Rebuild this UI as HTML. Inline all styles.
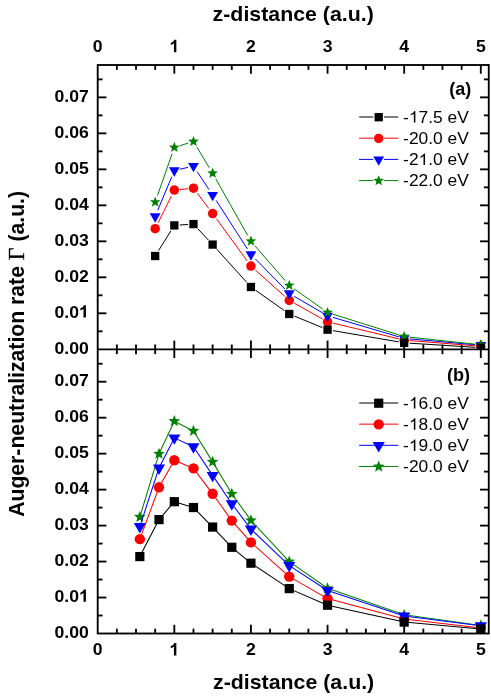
<!DOCTYPE html>
<html><head><meta charset="utf-8"><title>Auger-neutralization rate</title>
<style>
html,body{margin:0;padding:0;background:#fff;}
body{width:491px;height:696px;overflow:hidden;position:relative;font-family:"Liberation Sans",sans-serif;}
</style></head><body>
<svg width="491" height="696" viewBox="0 0 491 696" style="position:absolute;left:0;top:0;display:block;will-change:transform">
<rect width="491" height="696" fill="#ffffff"/>
<g stroke="#000" stroke-width="1.85" fill="none" stroke-linecap="butt">
<rect x="97.7" y="65.0" width="391.05" height="568.5"/>
<line x1="97.7" y1="349.3" x2="488.75" y2="349.3"/>
<line x1="116.86" y1="65.0" x2="116.86" y2="69.85"/>
<line x1="116.86" y1="344.45" x2="116.86" y2="354.15000000000003"/>
<line x1="116.86" y1="628.65" x2="116.86" y2="633.5"/>
<line x1="136.01" y1="65.0" x2="136.01" y2="69.85"/>
<line x1="136.01" y1="344.45" x2="136.01" y2="354.15000000000003"/>
<line x1="136.01" y1="628.65" x2="136.01" y2="633.5"/>
<line x1="155.17" y1="65.0" x2="155.17" y2="69.85"/>
<line x1="155.17" y1="344.45" x2="155.17" y2="354.15000000000003"/>
<line x1="155.17" y1="628.65" x2="155.17" y2="633.5"/>
<line x1="174.32" y1="65.0" x2="174.32" y2="73.7"/>
<line x1="174.32" y1="340.6" x2="174.32" y2="358.0"/>
<line x1="174.32" y1="624.8" x2="174.32" y2="633.5"/>
<line x1="193.48" y1="65.0" x2="193.48" y2="69.85"/>
<line x1="193.48" y1="344.45" x2="193.48" y2="354.15000000000003"/>
<line x1="193.48" y1="628.65" x2="193.48" y2="633.5"/>
<line x1="212.63" y1="65.0" x2="212.63" y2="69.85"/>
<line x1="212.63" y1="344.45" x2="212.63" y2="354.15000000000003"/>
<line x1="212.63" y1="628.65" x2="212.63" y2="633.5"/>
<line x1="231.79" y1="65.0" x2="231.79" y2="69.85"/>
<line x1="231.79" y1="344.45" x2="231.79" y2="354.15000000000003"/>
<line x1="231.79" y1="628.65" x2="231.79" y2="633.5"/>
<line x1="250.94" y1="65.0" x2="250.94" y2="73.7"/>
<line x1="250.94" y1="340.6" x2="250.94" y2="358.0"/>
<line x1="250.94" y1="624.8" x2="250.94" y2="633.5"/>
<line x1="270.10" y1="65.0" x2="270.10" y2="69.85"/>
<line x1="270.10" y1="344.45" x2="270.10" y2="354.15000000000003"/>
<line x1="270.10" y1="628.65" x2="270.10" y2="633.5"/>
<line x1="289.25" y1="65.0" x2="289.25" y2="69.85"/>
<line x1="289.25" y1="344.45" x2="289.25" y2="354.15000000000003"/>
<line x1="289.25" y1="628.65" x2="289.25" y2="633.5"/>
<line x1="308.41" y1="65.0" x2="308.41" y2="69.85"/>
<line x1="308.41" y1="344.45" x2="308.41" y2="354.15000000000003"/>
<line x1="308.41" y1="628.65" x2="308.41" y2="633.5"/>
<line x1="327.56" y1="65.0" x2="327.56" y2="73.7"/>
<line x1="327.56" y1="340.6" x2="327.56" y2="358.0"/>
<line x1="327.56" y1="624.8" x2="327.56" y2="633.5"/>
<line x1="346.72" y1="65.0" x2="346.72" y2="69.85"/>
<line x1="346.72" y1="344.45" x2="346.72" y2="354.15000000000003"/>
<line x1="346.72" y1="628.65" x2="346.72" y2="633.5"/>
<line x1="365.87" y1="65.0" x2="365.87" y2="69.85"/>
<line x1="365.87" y1="344.45" x2="365.87" y2="354.15000000000003"/>
<line x1="365.87" y1="628.65" x2="365.87" y2="633.5"/>
<line x1="385.03" y1="65.0" x2="385.03" y2="69.85"/>
<line x1="385.03" y1="344.45" x2="385.03" y2="354.15000000000003"/>
<line x1="385.03" y1="628.65" x2="385.03" y2="633.5"/>
<line x1="404.18" y1="65.0" x2="404.18" y2="73.7"/>
<line x1="404.18" y1="340.6" x2="404.18" y2="358.0"/>
<line x1="404.18" y1="624.8" x2="404.18" y2="633.5"/>
<line x1="423.33" y1="65.0" x2="423.33" y2="69.85"/>
<line x1="423.33" y1="344.45" x2="423.33" y2="354.15000000000003"/>
<line x1="423.33" y1="628.65" x2="423.33" y2="633.5"/>
<line x1="442.49" y1="65.0" x2="442.49" y2="69.85"/>
<line x1="442.49" y1="344.45" x2="442.49" y2="354.15000000000003"/>
<line x1="442.49" y1="628.65" x2="442.49" y2="633.5"/>
<line x1="461.65" y1="65.0" x2="461.65" y2="69.85"/>
<line x1="461.65" y1="344.45" x2="461.65" y2="354.15000000000003"/>
<line x1="461.65" y1="628.65" x2="461.65" y2="633.5"/>
<line x1="480.80" y1="65.0" x2="480.80" y2="73.7"/>
<line x1="480.80" y1="340.6" x2="480.80" y2="358.0"/>
<line x1="480.80" y1="624.8" x2="480.80" y2="633.5"/>
<line x1="97.7" y1="331.31" x2="102.55" y2="331.31"/>
<line x1="488.75" y1="331.31" x2="483.9" y2="331.31"/>
<line x1="97.7" y1="313.31" x2="106.4" y2="313.31"/>
<line x1="488.75" y1="313.31" x2="480.05" y2="313.31"/>
<line x1="97.7" y1="295.31" x2="102.55" y2="295.31"/>
<line x1="488.75" y1="295.31" x2="483.9" y2="295.31"/>
<line x1="97.7" y1="277.32" x2="106.4" y2="277.32"/>
<line x1="488.75" y1="277.32" x2="480.05" y2="277.32"/>
<line x1="97.7" y1="259.32" x2="102.55" y2="259.32"/>
<line x1="488.75" y1="259.32" x2="483.9" y2="259.32"/>
<line x1="97.7" y1="241.33" x2="106.4" y2="241.33"/>
<line x1="488.75" y1="241.33" x2="480.05" y2="241.33"/>
<line x1="97.7" y1="223.33" x2="102.55" y2="223.33"/>
<line x1="488.75" y1="223.33" x2="483.9" y2="223.33"/>
<line x1="97.7" y1="205.34" x2="106.4" y2="205.34"/>
<line x1="488.75" y1="205.34" x2="480.05" y2="205.34"/>
<line x1="97.7" y1="187.35" x2="102.55" y2="187.35"/>
<line x1="488.75" y1="187.35" x2="483.9" y2="187.35"/>
<line x1="97.7" y1="169.35" x2="106.4" y2="169.35"/>
<line x1="488.75" y1="169.35" x2="480.05" y2="169.35"/>
<line x1="97.7" y1="151.36" x2="102.55" y2="151.36"/>
<line x1="488.75" y1="151.36" x2="483.9" y2="151.36"/>
<line x1="97.7" y1="133.36" x2="106.4" y2="133.36"/>
<line x1="488.75" y1="133.36" x2="480.05" y2="133.36"/>
<line x1="97.7" y1="115.37" x2="102.55" y2="115.37"/>
<line x1="488.75" y1="115.37" x2="483.9" y2="115.37"/>
<line x1="97.7" y1="97.37" x2="106.4" y2="97.37"/>
<line x1="488.75" y1="97.37" x2="480.05" y2="97.37"/>
<line x1="97.7" y1="79.38" x2="102.55" y2="79.38"/>
<line x1="488.75" y1="79.38" x2="483.9" y2="79.38"/>
<line x1="97.7" y1="615.51" x2="102.55" y2="615.51"/>
<line x1="488.75" y1="615.51" x2="483.9" y2="615.51"/>
<line x1="97.7" y1="597.53" x2="106.4" y2="597.53"/>
<line x1="488.75" y1="597.53" x2="480.05" y2="597.53"/>
<line x1="97.7" y1="579.54" x2="102.55" y2="579.54"/>
<line x1="488.75" y1="579.54" x2="483.9" y2="579.54"/>
<line x1="97.7" y1="561.56" x2="106.4" y2="561.56"/>
<line x1="488.75" y1="561.56" x2="480.05" y2="561.56"/>
<line x1="97.7" y1="543.58" x2="102.55" y2="543.58"/>
<line x1="488.75" y1="543.58" x2="483.9" y2="543.58"/>
<line x1="97.7" y1="525.59" x2="106.4" y2="525.59"/>
<line x1="488.75" y1="525.59" x2="480.05" y2="525.59"/>
<line x1="97.7" y1="507.61" x2="102.55" y2="507.61"/>
<line x1="488.75" y1="507.61" x2="483.9" y2="507.61"/>
<line x1="97.7" y1="489.62" x2="106.4" y2="489.62"/>
<line x1="488.75" y1="489.62" x2="480.05" y2="489.62"/>
<line x1="97.7" y1="471.63" x2="102.55" y2="471.63"/>
<line x1="488.75" y1="471.63" x2="483.9" y2="471.63"/>
<line x1="97.7" y1="453.65" x2="106.4" y2="453.65"/>
<line x1="488.75" y1="453.65" x2="480.05" y2="453.65"/>
<line x1="97.7" y1="435.66" x2="102.55" y2="435.66"/>
<line x1="488.75" y1="435.66" x2="483.9" y2="435.66"/>
<line x1="97.7" y1="417.68" x2="106.4" y2="417.68"/>
<line x1="488.75" y1="417.68" x2="480.05" y2="417.68"/>
<line x1="97.7" y1="399.69" x2="102.55" y2="399.69"/>
<line x1="488.75" y1="399.69" x2="483.9" y2="399.69"/>
<line x1="97.7" y1="381.71" x2="106.4" y2="381.71"/>
<line x1="488.75" y1="381.71" x2="480.05" y2="381.71"/>
<line x1="97.7" y1="363.73" x2="102.55" y2="363.73"/>
<line x1="488.75" y1="363.73" x2="483.9" y2="363.73"/>
</g>
<defs><clipPath id="ca"><rect x="97.7" y="65.0" width="391.05" height="283.7"/></clipPath><clipPath id="cb"><rect x="97.7" y="349.3" width="391.05" height="283.59999999999997"/></clipPath></defs>
<g clip-path="url(#ca)">
<line x1="158.13" y1="222.74" x2="171.35" y2="196.09" stroke="#ff0000" stroke-width="1.0"/>
<line x1="179.80" y1="189.57" x2="187.99" y2="188.75" stroke="#ff0000" stroke-width="1.0"/>
<line x1="197.32" y1="193.29" x2="208.79" y2="208.48" stroke="#ff0000" stroke-width="1.0"/>
<line x1="216.40" y1="218.73" x2="247.17" y2="260.93" stroke="#ff0000" stroke-width="1.0"/>
<line x1="255.46" y1="270.14" x2="284.73" y2="296.34" stroke="#ff0000" stroke-width="1.0"/>
<line x1="294.30" y1="303.21" x2="322.51" y2="319.00" stroke="#ff0000" stroke-width="1.0"/>
<line x1="332.97" y1="323.12" x2="398.77" y2="338.85" stroke="#ff0000" stroke-width="1.0"/>
<line x1="409.67" y1="340.58" x2="475.31" y2="345.81" stroke="#ff0000" stroke-width="1.0"/>
<circle cx="155.17" cy="228.71" r="4.75" fill="#ff0000"/>
<circle cx="174.32" cy="190.11" r="4.75" fill="#ff0000"/>
<circle cx="193.48" cy="188.21" r="4.75" fill="#ff0000"/>
<circle cx="212.63" cy="213.56" r="4.75" fill="#ff0000"/>
<circle cx="250.94" cy="266.10" r="4.75" fill="#ff0000"/>
<circle cx="289.25" cy="300.39" r="4.75" fill="#ff0000"/>
<circle cx="327.56" cy="321.83" r="4.75" fill="#ff0000"/>
<circle cx="404.18" cy="340.14" r="4.75" fill="#ff0000"/>
<circle cx="480.80" cy="346.25" r="4.75" fill="#ff0000"/>
<line x1="157.77" y1="210.24" x2="171.72" y2="176.75" stroke="#0000ff" stroke-width="1.0"/>
<line x1="179.74" y1="169.25" x2="188.06" y2="167.35" stroke="#0000ff" stroke-width="1.0"/>
<line x1="197.05" y1="171.51" x2="209.05" y2="189.62" stroke="#0000ff" stroke-width="1.0"/>
<line x1="216.15" y1="200.47" x2="247.42" y2="248.96" stroke="#0000ff" stroke-width="1.0"/>
<line x1="255.26" y1="258.81" x2="284.93" y2="289.08" stroke="#0000ff" stroke-width="1.0"/>
<line x1="294.26" y1="296.40" x2="322.55" y2="312.86" stroke="#0000ff" stroke-width="1.0"/>
<line x1="332.92" y1="317.37" x2="398.82" y2="336.82" stroke="#0000ff" stroke-width="1.0"/>
<line x1="409.67" y1="338.90" x2="475.31" y2="344.74" stroke="#0000ff" stroke-width="1.0"/>
<polygon points="149.77,213.37 160.57,213.37 155.17,222.73" fill="#0000ff"/>
<polygon points="168.92,167.37 179.72,167.37 174.32,176.73" fill="#0000ff"/>
<polygon points="188.08,162.99 198.88,162.99 193.48,172.35" fill="#0000ff"/>
<polygon points="207.23,191.90 218.03,191.90 212.63,201.25" fill="#0000ff"/>
<polygon points="245.54,251.30 256.34,251.30 250.94,260.65" fill="#0000ff"/>
<polygon points="283.85,290.37 294.65,290.37 289.25,299.72" fill="#0000ff"/>
<polygon points="322.16,312.67 332.96,312.67 327.56,322.02" fill="#0000ff"/>
<polygon points="398.78,335.29 409.58,335.29 404.18,344.64" fill="#0000ff"/>
<polygon points="475.40,342.11 486.20,342.11 480.80,351.46" fill="#0000ff"/>
<line x1="157.43" y1="195.64" x2="172.05" y2="153.88" stroke="#008000" stroke-width="1.0"/>
<line x1="179.67" y1="145.76" x2="188.13" y2="143.14" stroke="#008000" stroke-width="1.0"/>
<line x1="196.85" y1="147.09" x2="209.25" y2="167.70" stroke="#008000" stroke-width="1.0"/>
<line x1="215.87" y1="179.04" x2="247.70" y2="235.47" stroke="#008000" stroke-width="1.0"/>
<line x1="255.04" y1="245.94" x2="285.15" y2="280.65" stroke="#008000" stroke-width="1.0"/>
<line x1="294.07" y1="288.79" x2="322.74" y2="309.08" stroke="#008000" stroke-width="1.0"/>
<line x1="332.90" y1="314.17" x2="398.84" y2="334.87" stroke="#008000" stroke-width="1.0"/>
<line x1="409.66" y1="337.14" x2="475.32" y2="344.22" stroke="#008000" stroke-width="1.0"/>
<polygon points="155.17,196.50 156.58,200.16 160.49,200.37 157.46,202.85 158.46,206.64 155.17,204.51 151.87,206.64 152.87,202.85 149.84,200.37 153.75,200.16" fill="#008000"/>
<polygon points="174.32,141.81 175.74,145.47 179.65,145.68 176.61,148.16 177.61,151.94 174.32,149.82 171.03,151.94 172.03,148.16 168.99,145.68 172.90,145.47" fill="#008000"/>
<polygon points="193.48,135.89 194.89,139.54 198.80,139.76 195.77,142.23 196.77,146.02 193.48,143.90 190.18,146.02 191.18,142.23 188.15,139.76 192.06,139.54" fill="#008000"/>
<polygon points="212.63,167.71 214.05,171.36 217.96,171.57 214.92,174.05 215.92,177.84 212.63,175.71 209.34,177.84 210.34,174.05 207.30,171.57 211.21,171.36" fill="#008000"/>
<polygon points="250.94,235.61 252.36,239.26 256.27,239.48 253.23,241.96 254.23,245.74 250.94,243.62 247.65,245.74 248.65,241.96 245.61,239.48 249.52,239.26" fill="#008000"/>
<polygon points="289.25,279.78 290.67,283.43 294.58,283.65 291.54,286.12 292.54,289.91 289.25,287.79 285.96,289.91 286.96,286.12 283.92,283.65 287.83,283.43" fill="#008000"/>
<polygon points="327.56,306.89 328.98,310.54 332.89,310.76 329.85,313.24 330.85,317.02 327.56,314.90 324.27,317.02 325.27,313.24 322.23,310.76 326.14,310.54" fill="#008000"/>
<polygon points="404.18,330.95 405.60,334.60 409.51,334.82 406.47,337.30 407.47,341.08 404.18,338.96 400.89,341.08 401.89,337.30 398.85,334.82 402.76,334.60" fill="#008000"/>
<polygon points="480.80,339.21 482.22,342.86 486.13,343.08 483.09,345.56 484.09,349.34 480.80,347.22 477.51,349.34 478.51,345.56 475.47,343.08 479.38,342.86" fill="#008000"/>
<line x1="158.62" y1="250.48" x2="170.86" y2="230.93" stroke="#000000" stroke-width="1.0"/>
<line x1="179.81" y1="225.03" x2="187.98" y2="224.46" stroke="#000000" stroke-width="1.0"/>
<line x1="197.71" y1="228.61" x2="208.40" y2="240.05" stroke="#000000" stroke-width="1.0"/>
<line x1="216.81" y1="249.21" x2="246.76" y2="282.37" stroke="#000000" stroke-width="1.0"/>
<line x1="255.77" y1="290.40" x2="284.42" y2="310.60" stroke="#000000" stroke-width="1.0"/>
<line x1="294.49" y1="316.15" x2="322.32" y2="327.55" stroke="#000000" stroke-width="1.0"/>
<line x1="333.01" y1="330.63" x2="398.73" y2="341.90" stroke="#000000" stroke-width="1.0"/>
<line x1="409.67" y1="343.18" x2="475.31" y2="347.34" stroke="#000000" stroke-width="1.0"/>
<rect x="151.02" y="251.86" width="8.3" height="8.3" fill="#000000"/>
<rect x="170.17" y="221.26" width="8.3" height="8.3" fill="#000000"/>
<rect x="189.33" y="219.93" width="8.3" height="8.3" fill="#000000"/>
<rect x="208.48" y="240.44" width="8.3" height="8.3" fill="#000000"/>
<rect x="246.79" y="282.85" width="8.3" height="8.3" fill="#000000"/>
<rect x="285.10" y="309.85" width="8.3" height="8.3" fill="#000000"/>
<rect x="323.41" y="325.54" width="8.3" height="8.3" fill="#000000"/>
<rect x="400.03" y="338.69" width="8.3" height="8.3" fill="#000000"/>
<rect x="476.65" y="343.53" width="8.3" height="8.3" fill="#000000"/>
</g><g clip-path="url(#cb)">
<line x1="139.84" y1="539.13" x2="159.00" y2="487.31" stroke="#ff0000" stroke-width="1.05"/>
<line x1="159.00" y1="487.31" x2="174.32" y2="460.27" stroke="#ff0000" stroke-width="1.05"/>
<line x1="174.32" y1="460.27" x2="193.48" y2="468.42" stroke="#ff0000" stroke-width="1.05"/>
<line x1="193.48" y1="468.42" x2="212.63" y2="493.81" stroke="#ff0000" stroke-width="1.05"/>
<line x1="212.63" y1="493.81" x2="231.79" y2="520.60" stroke="#ff0000" stroke-width="1.05"/>
<line x1="231.79" y1="520.60" x2="250.94" y2="542.40" stroke="#ff0000" stroke-width="1.05"/>
<line x1="250.94" y1="542.40" x2="289.25" y2="576.59" stroke="#ff0000" stroke-width="1.05"/>
<line x1="289.25" y1="576.59" x2="327.56" y2="598.60" stroke="#ff0000" stroke-width="1.05"/>
<line x1="327.56" y1="598.60" x2="404.18" y2="619.10" stroke="#ff0000" stroke-width="1.05"/>
<line x1="404.18" y1="619.10" x2="480.80" y2="627.97" stroke="#ff0000" stroke-width="1.05"/>
<circle cx="139.84" cy="539.13" r="5.2" fill="#ff0000"/>
<circle cx="159.00" cy="487.31" r="5.2" fill="#ff0000"/>
<circle cx="174.32" cy="460.27" r="5.2" fill="#ff0000"/>
<circle cx="193.48" cy="468.42" r="5.2" fill="#ff0000"/>
<circle cx="212.63" cy="493.81" r="5.2" fill="#ff0000"/>
<circle cx="231.79" cy="520.60" r="5.2" fill="#ff0000"/>
<circle cx="250.94" cy="542.40" r="5.2" fill="#ff0000"/>
<circle cx="289.25" cy="576.59" r="5.2" fill="#ff0000"/>
<circle cx="327.56" cy="598.60" r="5.2" fill="#ff0000"/>
<circle cx="404.18" cy="619.10" r="5.2" fill="#ff0000"/>
<circle cx="480.80" cy="627.97" r="5.2" fill="#ff0000"/>
<line x1="139.84" y1="517.01" x2="159.00" y2="453.81" stroke="#008000" stroke-width="1.05"/>
<line x1="159.00" y1="453.81" x2="174.32" y2="421.20" stroke="#008000" stroke-width="1.05"/>
<line x1="174.32" y1="421.20" x2="193.48" y2="430.97" stroke="#008000" stroke-width="1.05"/>
<line x1="193.48" y1="430.97" x2="212.63" y2="461.89" stroke="#008000" stroke-width="1.05"/>
<line x1="212.63" y1="461.89" x2="231.79" y2="493.81" stroke="#008000" stroke-width="1.05"/>
<line x1="231.79" y1="493.81" x2="250.94" y2="520.42" stroke="#008000" stroke-width="1.05"/>
<line x1="250.94" y1="520.42" x2="289.25" y2="561.68" stroke="#008000" stroke-width="1.05"/>
<line x1="289.25" y1="561.68" x2="327.56" y2="588.29" stroke="#008000" stroke-width="1.05"/>
<line x1="327.56" y1="588.29" x2="404.18" y2="614.79" stroke="#008000" stroke-width="1.05"/>
<line x1="404.18" y1="614.79" x2="480.80" y2="625.46" stroke="#008000" stroke-width="1.05"/>
<polygon points="139.84,510.86 141.40,514.87 145.69,515.11 142.36,517.83 143.46,521.99 139.84,519.66 136.23,521.99 137.33,517.83 133.99,515.11 138.29,514.87" fill="#008000"/>
<polygon points="159.00,447.66 160.55,451.67 164.84,451.91 161.51,454.63 162.61,458.78 159.00,456.45 155.38,458.78 156.48,454.63 153.15,451.91 157.44,451.67" fill="#008000"/>
<polygon points="174.32,415.05 175.87,419.06 180.17,419.30 176.84,422.02 177.93,426.18 174.32,423.85 170.71,426.18 171.80,422.02 168.47,419.30 172.77,419.06" fill="#008000"/>
<polygon points="193.48,424.82 195.03,428.83 199.32,429.07 195.99,431.79 197.09,435.95 193.48,433.61 189.86,435.95 190.96,431.79 187.63,429.07 191.92,428.83" fill="#008000"/>
<polygon points="212.63,455.74 214.18,459.75 218.48,459.99 215.15,462.71 216.24,466.86 212.63,464.53 209.02,466.86 210.11,462.71 206.78,459.99 211.08,459.75" fill="#008000"/>
<polygon points="231.79,487.66 233.34,491.67 237.63,491.91 234.30,494.63 235.40,498.79 231.79,496.46 228.17,498.79 229.27,494.63 225.94,491.91 230.23,491.67" fill="#008000"/>
<polygon points="250.94,514.27 252.49,518.28 256.79,518.52 253.46,521.24 254.55,525.40 250.94,523.07 247.33,525.40 248.42,521.24 245.09,518.52 249.39,518.28" fill="#008000"/>
<polygon points="289.25,555.53 290.80,559.54 295.10,559.78 291.77,562.50 292.86,566.66 289.25,564.33 285.64,566.66 286.73,562.50 283.40,559.78 287.70,559.54" fill="#008000"/>
<polygon points="327.56,582.14 329.11,586.15 333.41,586.39 330.08,589.11 331.17,593.27 327.56,590.94 323.95,593.27 325.04,589.11 321.71,586.39 326.01,586.15" fill="#008000"/>
<polygon points="404.18,608.64 405.73,612.65 410.03,612.89 406.70,615.61 407.79,619.77 404.18,617.44 400.57,619.77 401.66,615.61 398.33,612.89 402.63,612.65" fill="#008000"/>
<polygon points="480.80,619.31 482.35,623.32 486.65,623.56 483.32,626.28 484.41,630.43 480.80,628.10 477.19,630.43 478.28,626.28 474.95,623.56 479.25,623.32" fill="#008000"/>
<line x1="139.84" y1="526.58" x2="159.00" y2="467.91" stroke="#0000ff" stroke-width="1.05"/>
<line x1="159.00" y1="467.91" x2="174.32" y2="437.89" stroke="#0000ff" stroke-width="1.05"/>
<line x1="174.32" y1="437.89" x2="193.48" y2="446.68" stroke="#0000ff" stroke-width="1.05"/>
<line x1="193.48" y1="446.68" x2="212.63" y2="475.38" stroke="#0000ff" stroke-width="1.05"/>
<line x1="212.63" y1="475.38" x2="231.79" y2="503.71" stroke="#0000ff" stroke-width="1.05"/>
<line x1="231.79" y1="503.71" x2="250.94" y2="529.10" stroke="#0000ff" stroke-width="1.05"/>
<line x1="250.94" y1="529.10" x2="289.25" y2="565.58" stroke="#0000ff" stroke-width="1.05"/>
<line x1="289.25" y1="565.58" x2="327.56" y2="590.50" stroke="#0000ff" stroke-width="1.05"/>
<line x1="327.56" y1="590.50" x2="404.18" y2="615.93" stroke="#0000ff" stroke-width="1.05"/>
<line x1="404.18" y1="615.93" x2="480.80" y2="625.70" stroke="#0000ff" stroke-width="1.05"/>
<polygon points="133.79,523.09 145.89,523.09 139.84,533.57" fill="#0000ff"/>
<polygon points="152.95,464.41 165.05,464.41 159.00,474.89" fill="#0000ff"/>
<polygon points="168.27,434.39 180.37,434.39 174.32,444.87" fill="#0000ff"/>
<polygon points="187.43,443.19 199.53,443.19 193.48,453.67" fill="#0000ff"/>
<polygon points="206.58,471.88 218.68,471.88 212.63,482.36" fill="#0000ff"/>
<polygon points="225.74,500.22 237.84,500.22 231.79,510.69" fill="#0000ff"/>
<polygon points="244.89,525.60 256.99,525.60 250.94,536.08" fill="#0000ff"/>
<polygon points="283.20,562.09 295.30,562.09 289.25,572.57" fill="#0000ff"/>
<polygon points="321.51,587.01 333.61,587.01 327.56,597.49" fill="#0000ff"/>
<polygon points="398.13,612.43 410.23,612.43 404.18,622.91" fill="#0000ff"/>
<polygon points="474.75,622.20 486.85,622.20 480.80,632.68" fill="#0000ff"/>
<line x1="139.84" y1="556.58" x2="159.00" y2="519.60" stroke="#000000" stroke-width="1.05"/>
<line x1="159.00" y1="519.60" x2="174.32" y2="501.68" stroke="#000000" stroke-width="1.05"/>
<line x1="174.32" y1="501.68" x2="193.48" y2="507.53" stroke="#000000" stroke-width="1.05"/>
<line x1="193.48" y1="507.53" x2="212.63" y2="527.07" stroke="#000000" stroke-width="1.05"/>
<line x1="212.63" y1="527.07" x2="231.79" y2="547.28" stroke="#000000" stroke-width="1.05"/>
<line x1="231.79" y1="547.28" x2="250.94" y2="563.19" stroke="#000000" stroke-width="1.05"/>
<line x1="250.94" y1="563.19" x2="289.25" y2="588.62" stroke="#000000" stroke-width="1.05"/>
<line x1="289.25" y1="588.62" x2="327.56" y2="605.21" stroke="#000000" stroke-width="1.05"/>
<line x1="327.56" y1="605.21" x2="404.18" y2="622.08" stroke="#000000" stroke-width="1.05"/>
<line x1="404.18" y1="622.08" x2="480.80" y2="629.05" stroke="#000000" stroke-width="1.05"/>
<rect x="135.24" y="551.98" width="9.2" height="9.2" fill="#000000"/>
<rect x="154.40" y="515.00" width="9.2" height="9.2" fill="#000000"/>
<rect x="169.72" y="497.08" width="9.2" height="9.2" fill="#000000"/>
<rect x="188.88" y="502.93" width="9.2" height="9.2" fill="#000000"/>
<rect x="208.03" y="522.47" width="9.2" height="9.2" fill="#000000"/>
<rect x="227.19" y="542.68" width="9.2" height="9.2" fill="#000000"/>
<rect x="246.34" y="558.59" width="9.2" height="9.2" fill="#000000"/>
<rect x="284.65" y="584.02" width="9.2" height="9.2" fill="#000000"/>
<rect x="322.96" y="600.61" width="9.2" height="9.2" fill="#000000"/>
<rect x="399.58" y="617.48" width="9.2" height="9.2" fill="#000000"/>
<rect x="476.20" y="624.45" width="9.2" height="9.2" fill="#000000"/>
</g>
<text transform="translate(97.70,52.20) scale(1.02,1)" font-family="Liberation Sans, sans-serif" font-size="17.3" font-weight="bold" text-anchor="middle" fill="#000" >0</text>
<text transform="translate(97.70,655.40) scale(1.02,1)" font-family="Liberation Sans, sans-serif" font-size="17.3" font-weight="bold" text-anchor="middle" fill="#000" >0</text>
<path transform="translate(169.41,52.20) scale(0.008616,-0.008447)" d="M805 0H524V1059Q370 915 161 846V1101Q271 1137 400 1237.5Q529 1338 577 1472H805Z" fill="#000"/>
<path transform="translate(169.41,655.40) scale(0.008616,-0.008447)" d="M805 0H524V1059Q370 915 161 846V1101Q271 1137 400 1237.5Q529 1338 577 1472H805Z" fill="#000"/>
<text transform="translate(250.94,52.20) scale(1.02,1)" font-family="Liberation Sans, sans-serif" font-size="17.3" font-weight="bold" text-anchor="middle" fill="#000" >2</text>
<text transform="translate(250.94,655.40) scale(1.02,1)" font-family="Liberation Sans, sans-serif" font-size="17.3" font-weight="bold" text-anchor="middle" fill="#000" >2</text>
<text transform="translate(327.56,52.20) scale(1.02,1)" font-family="Liberation Sans, sans-serif" font-size="17.3" font-weight="bold" text-anchor="middle" fill="#000" >3</text>
<text transform="translate(327.56,655.40) scale(1.02,1)" font-family="Liberation Sans, sans-serif" font-size="17.3" font-weight="bold" text-anchor="middle" fill="#000" >3</text>
<text transform="translate(404.18,52.20) scale(1.02,1)" font-family="Liberation Sans, sans-serif" font-size="17.3" font-weight="bold" text-anchor="middle" fill="#000" >4</text>
<text transform="translate(404.18,655.40) scale(1.02,1)" font-family="Liberation Sans, sans-serif" font-size="17.3" font-weight="bold" text-anchor="middle" fill="#000" >4</text>
<text transform="translate(480.80,52.20) scale(1.02,1)" font-family="Liberation Sans, sans-serif" font-size="17.3" font-weight="bold" text-anchor="middle" fill="#000" >5</text>
<text transform="translate(480.80,655.40) scale(1.02,1)" font-family="Liberation Sans, sans-serif" font-size="17.3" font-weight="bold" text-anchor="middle" fill="#000" >5</text>
<text transform="translate(88.80,353.60) scale(1.02,1)" font-family="Liberation Sans, sans-serif" font-size="17.3" font-weight="bold" text-anchor="end" fill="#000" >0.00</text>
<text transform="translate(54.46,317.61) scale(1.02,1)" font-family="Liberation Sans, sans-serif" font-size="17.3" font-weight="bold" text-anchor="start" fill="#000" >0.0</text>
<path transform="translate(78.99,317.61) scale(0.008616,-0.008447)" d="M805 0H524V1059Q370 915 161 846V1101Q271 1137 400 1237.5Q529 1338 577 1472H805Z" fill="#000"/>
<text transform="translate(88.80,281.62) scale(1.02,1)" font-family="Liberation Sans, sans-serif" font-size="17.3" font-weight="bold" text-anchor="end" fill="#000" >0.02</text>
<text transform="translate(88.80,245.63) scale(1.02,1)" font-family="Liberation Sans, sans-serif" font-size="17.3" font-weight="bold" text-anchor="end" fill="#000" >0.03</text>
<text transform="translate(88.80,209.64) scale(1.02,1)" font-family="Liberation Sans, sans-serif" font-size="17.3" font-weight="bold" text-anchor="end" fill="#000" >0.04</text>
<text transform="translate(88.80,173.65) scale(1.02,1)" font-family="Liberation Sans, sans-serif" font-size="17.3" font-weight="bold" text-anchor="end" fill="#000" >0.05</text>
<text transform="translate(88.80,137.66) scale(1.02,1)" font-family="Liberation Sans, sans-serif" font-size="17.3" font-weight="bold" text-anchor="end" fill="#000" >0.06</text>
<text transform="translate(88.80,101.67) scale(1.02,1)" font-family="Liberation Sans, sans-serif" font-size="17.3" font-weight="bold" text-anchor="end" fill="#000" >0.07</text>
<text transform="translate(88.80,637.80) scale(1.02,1)" font-family="Liberation Sans, sans-serif" font-size="17.3" font-weight="bold" text-anchor="end" fill="#000" >0.00</text>
<text transform="translate(54.46,601.83) scale(1.02,1)" font-family="Liberation Sans, sans-serif" font-size="17.3" font-weight="bold" text-anchor="start" fill="#000" >0.0</text>
<path transform="translate(78.99,601.83) scale(0.008616,-0.008447)" d="M805 0H524V1059Q370 915 161 846V1101Q271 1137 400 1237.5Q529 1338 577 1472H805Z" fill="#000"/>
<text transform="translate(88.80,565.86) scale(1.02,1)" font-family="Liberation Sans, sans-serif" font-size="17.3" font-weight="bold" text-anchor="end" fill="#000" >0.02</text>
<text transform="translate(88.80,529.89) scale(1.02,1)" font-family="Liberation Sans, sans-serif" font-size="17.3" font-weight="bold" text-anchor="end" fill="#000" >0.03</text>
<text transform="translate(88.80,493.92) scale(1.02,1)" font-family="Liberation Sans, sans-serif" font-size="17.3" font-weight="bold" text-anchor="end" fill="#000" >0.04</text>
<text transform="translate(88.80,457.95) scale(1.02,1)" font-family="Liberation Sans, sans-serif" font-size="17.3" font-weight="bold" text-anchor="end" fill="#000" >0.05</text>
<text transform="translate(88.80,421.98) scale(1.02,1)" font-family="Liberation Sans, sans-serif" font-size="17.3" font-weight="bold" text-anchor="end" fill="#000" >0.06</text>
<text transform="translate(88.80,386.01) scale(1.02,1)" font-family="Liberation Sans, sans-serif" font-size="17.3" font-weight="bold" text-anchor="end" fill="#000" >0.07</text>
<text transform="translate(293.20,20.60) scale(1.078,1)" font-family="Liberation Sans, sans-serif" font-size="19.8" font-weight="bold" text-anchor="middle" fill="#000" >z-distance (a.u.)</text>
<text transform="translate(293.60,689.00) scale(1.078,1)" font-family="Liberation Sans, sans-serif" font-size="19.8" font-weight="bold" text-anchor="middle" fill="#000" >z-distance (a.u.)</text>
<text transform="translate(23.8,353.9) rotate(-90) scale(0.986,1)" font-family="Liberation Sans, sans-serif" font-size="21.5" font-weight="bold" text-anchor="middle" fill="#000">Auger-neutralization rate <tspan font-family="Liberation Serif, serif" font-weight="normal" font-size="22.3" stroke="#000" stroke-width="0.35">Γ</tspan> (a.u.)</text>
<text transform="translate(471.20,95.00) scale(1.03,1)" font-family="Liberation Sans, sans-serif" font-size="17.5" font-weight="bold" text-anchor="end" fill="#000" >(a)</text>
<text transform="translate(469.90,381.30) scale(1.03,1)" font-family="Liberation Sans, sans-serif" font-size="17.5" font-weight="bold" text-anchor="end" fill="#000" >(b)</text>
<line x1="359.1" y1="117.00" x2="373.3" y2="117.00" stroke="#000000" stroke-width="1"/>
<line x1="384.1" y1="117.00" x2="398.3" y2="117.00" stroke="#000000" stroke-width="1"/>
<rect x="374.55" y="113.05" width="8.3" height="8.3" fill="#000000"/>
<text transform="translate(403.10,122.60) scale(1.087,1)" font-family="Liberation Sans, sans-serif" font-size="16" font-weight="normal" text-anchor="start" fill="#000" >-</text>
<path transform="translate(408.89,122.60) scale(0.008492,-0.007812)" d="M763 0H583V1147Q518 1085 412.5 1023Q307 961 223 930V1104Q374 1175 487 1276Q600 1377 647 1472H763Z" fill="#000"/>
<text transform="translate(418.56,122.60) scale(1.087,1)" font-family="Liberation Sans, sans-serif" font-size="16" font-weight="normal" text-anchor="start" fill="#000" >7.5 eV</text>
<line x1="359.1" y1="138.20" x2="373.3" y2="138.20" stroke="#ff0000" stroke-width="1"/>
<line x1="384.1" y1="138.20" x2="398.3" y2="138.20" stroke="#ff0000" stroke-width="1"/>
<circle cx="378.70" cy="138.40" r="4.75" fill="#ff0000"/>
<text transform="translate(403.10,143.80) scale(1.087,1)" font-family="Liberation Sans, sans-serif" font-size="16" font-weight="normal" text-anchor="start" fill="#000" >-20.0 eV</text>
<line x1="359.1" y1="159.40" x2="373.3" y2="159.40" stroke="#0000ff" stroke-width="1"/>
<line x1="384.1" y1="159.40" x2="398.3" y2="159.40" stroke="#0000ff" stroke-width="1"/>
<polygon points="373.30,156.48 384.10,156.48 378.70,165.84" fill="#0000ff"/>
<text transform="translate(403.10,165.00) scale(1.087,1)" font-family="Liberation Sans, sans-serif" font-size="16" font-weight="normal" text-anchor="start" fill="#000" >-2</text>
<path transform="translate(418.56,165.00) scale(0.008492,-0.007812)" d="M763 0H583V1147Q518 1085 412.5 1023Q307 961 223 930V1104Q374 1175 487 1276Q600 1377 647 1472H763Z" fill="#000"/>
<text transform="translate(428.23,165.00) scale(1.087,1)" font-family="Liberation Sans, sans-serif" font-size="16" font-weight="normal" text-anchor="start" fill="#000" >.0 eV</text>
<line x1="359.1" y1="180.60" x2="373.3" y2="180.60" stroke="#008000" stroke-width="1"/>
<line x1="384.1" y1="180.60" x2="398.3" y2="180.60" stroke="#008000" stroke-width="1"/>
<polygon points="378.70,175.20 380.12,178.85 384.03,179.07 380.99,181.54 381.99,185.33 378.70,183.21 375.41,185.33 376.41,181.54 373.37,179.07 377.28,178.85" fill="#008000"/>
<text transform="translate(403.10,186.20) scale(1.087,1)" font-family="Liberation Sans, sans-serif" font-size="16" font-weight="normal" text-anchor="start" fill="#000" >-22.0 eV</text>
<line x1="359.1" y1="403.00" x2="398.3" y2="403.00" stroke="#000000" stroke-width="1"/>
<rect x="374.10" y="398.60" width="9.2" height="9.2" fill="#000000"/>
<text transform="translate(403.10,408.60) scale(1.087,1)" font-family="Liberation Sans, sans-serif" font-size="16" font-weight="normal" text-anchor="start" fill="#000" >-</text>
<path transform="translate(408.89,408.60) scale(0.008492,-0.007812)" d="M763 0H583V1147Q518 1085 412.5 1023Q307 961 223 930V1104Q374 1175 487 1276Q600 1377 647 1472H763Z" fill="#000"/>
<text transform="translate(418.56,408.60) scale(1.087,1)" font-family="Liberation Sans, sans-serif" font-size="16" font-weight="normal" text-anchor="start" fill="#000" >6.0 eV</text>
<line x1="359.1" y1="424.15" x2="398.3" y2="424.15" stroke="#ff0000" stroke-width="1"/>
<circle cx="378.70" cy="424.35" r="5.2" fill="#ff0000"/>
<text transform="translate(403.10,429.75) scale(1.087,1)" font-family="Liberation Sans, sans-serif" font-size="16" font-weight="normal" text-anchor="start" fill="#000" >-</text>
<path transform="translate(408.89,429.75) scale(0.008492,-0.007812)" d="M763 0H583V1147Q518 1085 412.5 1023Q307 961 223 930V1104Q374 1175 487 1276Q600 1377 647 1472H763Z" fill="#000"/>
<text transform="translate(418.56,429.75) scale(1.087,1)" font-family="Liberation Sans, sans-serif" font-size="16" font-weight="normal" text-anchor="start" fill="#000" >8.0 eV</text>
<line x1="359.1" y1="445.30" x2="398.3" y2="445.30" stroke="#0000ff" stroke-width="1"/>
<polygon points="372.65,442.01 384.75,442.01 378.70,452.49" fill="#0000ff"/>
<text transform="translate(403.10,450.90) scale(1.087,1)" font-family="Liberation Sans, sans-serif" font-size="16" font-weight="normal" text-anchor="start" fill="#000" >-</text>
<path transform="translate(408.89,450.90) scale(0.008492,-0.007812)" d="M763 0H583V1147Q518 1085 412.5 1023Q307 961 223 930V1104Q374 1175 487 1276Q600 1377 647 1472H763Z" fill="#000"/>
<text transform="translate(418.56,450.90) scale(1.087,1)" font-family="Liberation Sans, sans-serif" font-size="16" font-weight="normal" text-anchor="start" fill="#000" >9.0 eV</text>
<line x1="359.1" y1="466.45" x2="398.3" y2="466.45" stroke="#008000" stroke-width="1"/>
<polygon points="378.70,460.50 380.25,464.51 384.55,464.75 381.22,467.47 382.31,471.63 378.70,469.29 375.09,471.63 376.18,467.47 372.85,464.75 377.15,464.51" fill="#008000"/>
<text transform="translate(403.10,472.05) scale(1.087,1)" font-family="Liberation Sans, sans-serif" font-size="16" font-weight="normal" text-anchor="start" fill="#000" >-20.0 eV</text>
</svg>
</body></html>
